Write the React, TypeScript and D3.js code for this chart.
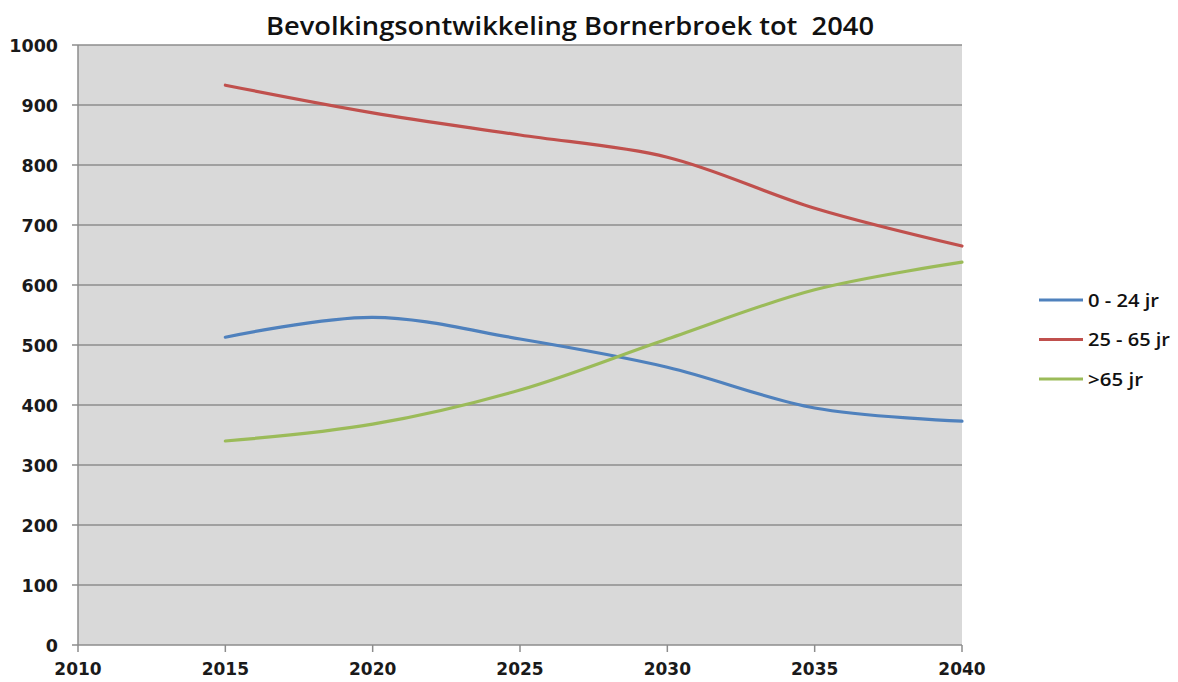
import React from "react";
import * as d3 from "d3";

const years = [2015, 2020, 2025, 2030, 2035, 2040];
const young = [513, 546, 510, 463, 395, 373];
const adults = [933, 887, 850, 813, 728, 665];
const elderly = [340, 368, 425, 510, 592, 638];
const seriesNames = ["0 - 24 jr", "25 - 65 jr", ">65 jr"];
const seriesColors = ["#4F81BD", "#C0504D", "#9BBB59"];
const xTicks = [2010, 2015, 2020, 2025, 2030, 2035, 2040];
const yTicks = [0, 100, 200, 300, 400, 500, 600, 700, 800, 900, 1000];
const title = "Bevolkingsontwikkeling Bornerbroek tot  2040";

export default function App() {
  const W = 1178, H = 682;
  const left = 78, right = 962, top = 45, bottom = 645;
  const x = d3.scaleLinear().domain([2010, 2040]).range([left, right]);
  const y = d3.scaleLinear().domain([0, 1000]).range([bottom, top]);
  const line = d3
    .line<number>()
    .x((_, i) => x(years[i]))
    .y((d) => y(d))
    .curve(d3.curveCatmullRom.alpha(0.5));
  const series = [young, adults, elderly];
  const font = "'DejaVu Sans', sans-serif";
  const legendLens = [71, 82, 55];
  return (
    <svg
      width={W}
      height={H}
      style={{ position: "absolute", left: 0, top: 0, background: "#fff" }}
    >
      <rect x={left} y={top} width={right - left} height={bottom - top} fill="#D9D9D9" />
      {yTicks.map((t) => (
        <g key={t}>
          <line x1={left - 6} x2={right} y1={y(t)} y2={y(t)} stroke="#8C8C8C" strokeWidth={1.5} />
          <text
            x={58}
            y={y(t) + 6.5}
            textAnchor="end"
            fontFamily={font}
            fontWeight="bold"
            fontSize={17.5}
            fill="#1a1a1a"
          >
            {t}
          </text>
        </g>
      ))}
      <line x1={left} x2={left} y1={top} y2={bottom} stroke="#8C8C8C" strokeWidth={1.5} />
      {xTicks.map((t) => (
        <g key={t}>
          <line x1={x(t)} x2={x(t)} y1={bottom} y2={bottom + 7} stroke="#8C8C8C" strokeWidth={1.5} />
          <text
            x={x(t)}
            y={675}
            textAnchor="middle"
            fontFamily={font}
            fontWeight="bold"
            fontSize={17}
            fill="#1a1a1a"
          >
            {t}
          </text>
        </g>
      ))}
      {series.map((s, i) => (
        <path
          key={i}
          d={line(s) || ""}
          fill="none"
          stroke={seriesColors[i]}
          strokeWidth={3.2}
          strokeLinecap="round"
        />
      ))}
      <text
        x={570}
        y={35}
        textAnchor="middle"
        fontFamily="'Open Sans', sans-serif"
        fontWeight={600}
        fontSize={25}
        textLength={608}
        lengthAdjust="spacingAndGlyphs"
        fill="#111"
        style={{ whiteSpace: "pre" }}
      >
        {title}
      </text>
      {seriesNames.map((n, i) => {
        const ly = 300 + i * 39.5;
        return (
          <g key={n}>
            <line x1={1039} x2={1083} y1={ly} y2={ly} stroke={seriesColors[i]} strokeWidth={3.2} />
            <text
              x={1088}
              y={ly + 6.5}
              fontFamily="'Open Sans', sans-serif"
              fontWeight={600}
              fontSize={18}
              textLength={legendLens[i]}
              lengthAdjust="spacingAndGlyphs"
              fill="#111"
            >
              {n}
            </text>
          </g>
        );
      })}
    </svg>
  );
}
